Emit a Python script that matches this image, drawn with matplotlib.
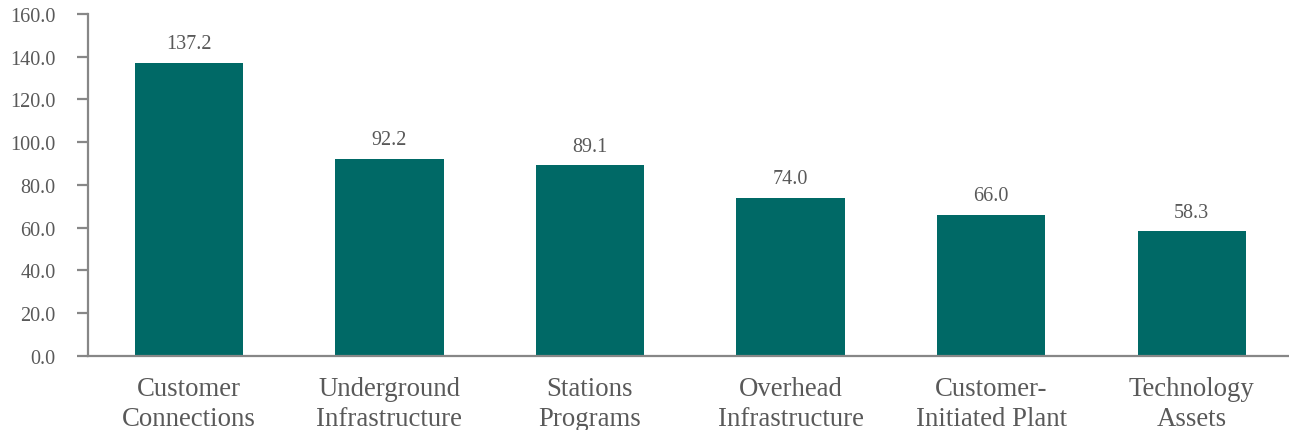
import matplotlib
matplotlib.use("Agg")
import matplotlib.pyplot as plt

categories = ["Customer\nConnections", "Underground\nInfrastructure", "Stations\nPrograms",
              "Overhead\nInfrastructure", "Customer-\nInitiated Plant", "Technology\nAssets"]
values = [137.2, 92.2, 89.1, 74.0, 66.0, 58.3]
yticks = [0, 20, 40, 60, 80, 100, 120, 140, 160]

plt.rcParams['font.family'] = ['Liberation Serif', 'DejaVu Serif']

W, H = 1289, 431
fig = plt.figure(figsize=(W / 100, H / 100), dpi=100)
left, right, top, bottom = 88.5, 1292, 15, 356.7
ax = fig.add_axes([left / W, 1 - bottom / H, (right - left) / W, (bottom - top) / H])

bar_color = "#006966"
grey = "#878787"
text_grey = "#595959"

x = list(range(len(categories)))
ax.bar(x, values, width=0.54, color=bar_color, zorder=2)
for xi, v in zip(x, values):
    ax.annotate(f"{v:.1f}", (xi, v), xytext=(0, 6.8), textcoords="offset points",
                ha="center", va="bottom", fontsize=14.5, color=text_grey)

ax.set_xlim(-0.5, len(categories) - 0.5)
ax.set_ylim(0, 160)
ax.set_yticks(yticks)
ax.set_yticklabels([f"{t:.1f}" for t in yticks])
ax.set_xticks(x)
ax.set_xticklabels(categories, fontsize=19.3, color=text_grey, linespacing=1.28)

for s in ["top", "right"]:
    ax.spines[s].set_visible(False)
for s in ["left", "bottom"]:
    ax.spines[s].set_color(grey)
    ax.spines[s].set_linewidth(1.6)

ax.tick_params(axis="y", direction="out", length=7.6, width=1.6, color=grey,
               labelsize=14.5, labelcolor=text_grey, pad=16)
ax.tick_params(axis="x", length=0, pad=14.5)

fig.savefig("out.png", dpi=100)
